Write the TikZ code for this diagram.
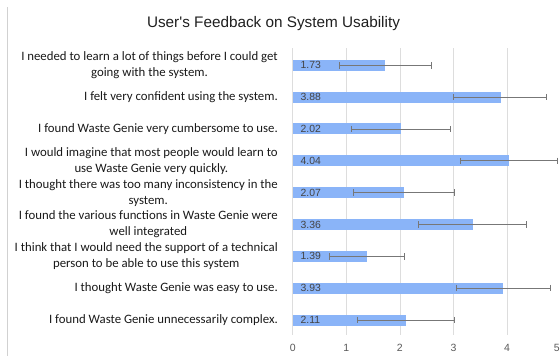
\documentclass[tikz,border=0pt]{standalone}
\usepackage{fontspec}
\setmainfont{Carlito}
\newfontfamily\chartfont[Ligatures=TeXOff]{Liberation Sans}
\definecolor{barblue}{HTML}{8AB4F8}
\definecolor{gridgrey}{HTML}{DDDDDD}
\definecolor{errgrey}{HTML}{777777}
\definecolor{valgrey}{HTML}{444444}

\begin{document}
\begin{tikzpicture}[x=1pt, y=-1pt, every node/.style={inner sep=0pt},
  qlabel/.style={anchor=east, align=center, text=black!90, font=\fontsize{12.8}{16}\selectfont},
  vallabel/.style={anchor=west, text=valgrey, font=\chartfont\fontsize{10.4}{12}\selectfont},
  ticklabel/.style={text=black!65, font=\chartfont\fontsize{10.5}{12}\selectfont}]
\useasboundingbox (0,0) rectangle (560,356);
\draw[black!18] (7,7) -- (7,356);
\node[font=\chartfont\fontsize{15.3}{18}\selectfont, text=black!88] (title) at (273.5,24) {User's Feedback on System Usability};
% grid and axis ticks
\foreach \i in {0,...,5} {
  \draw[gridgrey, line width=0.8pt] ({292.7+\i*53.6},48) -- ({292.7+\i*53.6},335);
}
\foreach \i in {0,...,4} {
  \node[ticklabel] (tick\i) at ({292.7+\i*53.6},348) {\i};
}
\node[ticklabel, anchor=east] (tick5) at (560,348) {5};
% questions, one per bar
\foreach \i/\q in {1/{I needed to learn a lot of things before I could get\\going with the system.},
    2/{I felt very confident using the system.},
    3/{I found Waste Genie very cumbersome to use.},
    4/{I would imagine that most people would learn to\\use Waste Genie very quickly.},
    5/{I thought there was too many inconsistency in the\\system.},
    6/{I found the various functions in Waste Genie were\\well integrated},
    7/{I think that I would need the support of a technical\\person to be able to use this system},
    8/{I thought Waste Genie was easy to use.},
    9/{I found Waste Genie unnecessarily complex.}} {
  \pgfmathsetmacro{\qy}{65.3+(\i-1)*31.84}
  \node[qlabel] (q\i) at (278,\qy) {\q};
}
% bars with error bars
\foreach \i/\v/\lo/\hi in {1/1.73/0.87/2.59, 2/3.88/3.00/4.74, 3/2.02/1.09/2.94,
    4/4.04/3.13/4.94, 5/2.07/1.13/3.01, 6/3.36/2.34/4.37,
    7/1.39/0.69/2.09, 8/3.93/3.05/4.81, 9/2.11/1.21/3.01} {
  \pgfmathsetmacro{\by}{65.3+(\i-1)*31.84}
  \fill[barblue] (292.7,\by-5.5) rectangle ({292.7+\v*53.6},\by+5.5);
  \draw[errgrey, line width=0.9pt] ({292.7+\lo*53.6},\by) -- ({292.7+\hi*53.6},\by);
  \draw[errgrey, line width=0.9pt] ({292.7+\lo*53.6},\by-3.2) -- ({292.7+\lo*53.6},\by+3.2);
  \draw[errgrey, line width=0.9pt] ({292.7+\hi*53.6},\by-3.2) -- ({292.7+\hi*53.6},\by+3.2);
  \node[vallabel] (val\i) at (300.5,\by) {\v};
}
\end{tikzpicture}
\end{document}
